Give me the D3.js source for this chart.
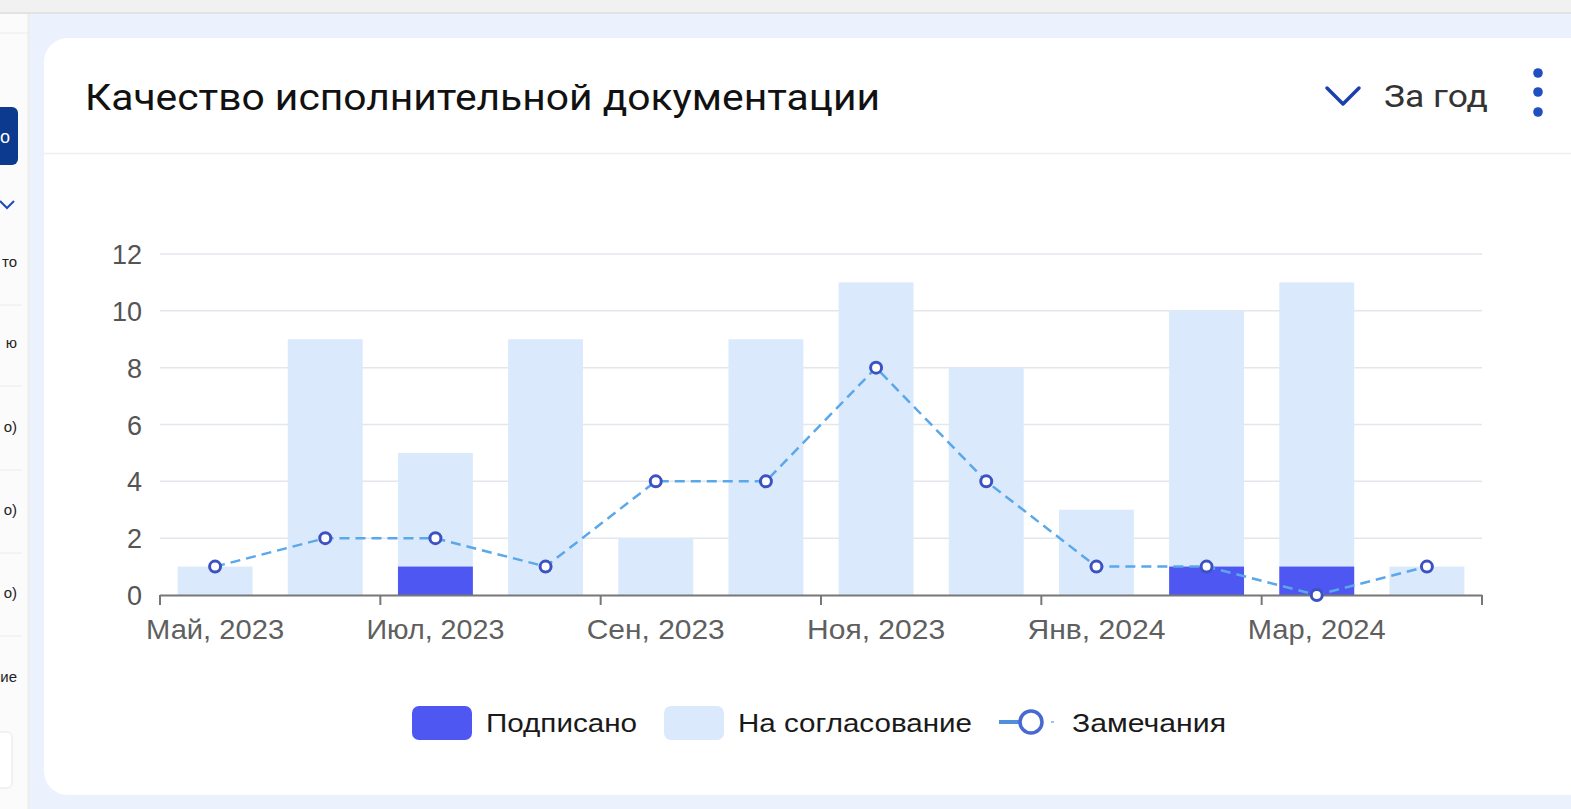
<!DOCTYPE html>
<html><head><meta charset="utf-8">
<script src="https://cdn.jsdelivr.net/npm/d3@7"></script>
<style>
html,body{margin:0;padding:0;width:1571px;height:809px;overflow:hidden;background:#ecf2fd;}
svg{display:block;}
</style></head>
<body>
<svg id="c" width="1571" height="809"></svg>
<script>
// ---- data ----
const months = ["2023-05","2023-06","2023-07","2023-08","2023-09","2023-10","2023-11","2023-12","2024-01","2024-02","2024-03","2024-04"];
const tickLabels = ["Май, 2023","Июл, 2023","Сен, 2023","Ноя, 2023","Янв, 2024","Мар, 2024"];
const signed = [0,0,1,0,0,0,0,0,0,1,1,0];           // Подписано
const pending = [1,9,5,9,2,9,11,8,3,10,11,1];       // На согласование
const remarks = [1,2,2,1,4,4,8,4,1,1,0,1];          // Замечания
const yTicks = [0,2,4,6,8,10,12];
const seriesNames = ["Подписано","На согласование","Замечания"];
const sidebarTexts = ["то","ю","о)","о)","о)","ие"];

const svg = d3.select("#c");
const W = 1571, H = 809;

// ---- page chrome ----
svg.append("rect").attr("x",0).attr("y",0).attr("width",W).attr("height",H).attr("fill","#ecf2fd");
svg.append("rect").attr("x",0).attr("y",0).attr("width",W).attr("height",13).attr("fill","#f1f1f1");
svg.append("line").attr("x1",0).attr("x2",W).attr("y1",13).attr("y2",13).attr("stroke","#dedede").attr("stroke-width",1.5);
// sidebar
svg.append("rect").attr("x",0).attr("y",14).attr("width",28).attr("height",H-14).attr("fill","#fbfbfb");
svg.append("line").attr("x1",28.5).attr("x2",28.5).attr("y1",14).attr("y2",H).attr("stroke","#ececec").attr("stroke-width",2);
svg.append("line").attr("x1",0).attr("x2",28).attr("y1",33).attr("y2",33).attr("stroke","#ececec");
svg.append("path").attr("d","M-10,107 H12 a6,6 0 0 1 6,6 V159 a6,6 0 0 1 -6,6 H-10 Z").attr("fill","#0b3a8f");
svg.append("text").attr("x",0).attr("y",143).attr("font-family","Liberation Sans, Arial").attr("font-size",18).attr("fill","#fff").text("о");
svg.append("path").attr("d","M0,201 L7,208 L14,201").attr("fill","none").attr("stroke","#1f4bb5").attr("stroke-width",2);
const sideY = [267,348,432,515,598,682];
sidebarTexts.forEach((t,i)=>{
  svg.append("text").attr("x",17).attr("y",sideY[i]).attr("text-anchor","end").attr("font-family","Liberation Sans, Arial").attr("font-size",15).attr("fill","#222").text(t);
  if(i<5) svg.append("line").attr("x1",0).attr("x2",22).attr("y1",sideY[i]+38).attr("y2",sideY[i]+38).attr("stroke","#ececec");
});
svg.append("rect").attr("x",-10).attr("y",732).attr("width",22).attr("height",56).attr("rx",5).attr("fill","#fff").attr("stroke","#e6e6e6");

// card
svg.append("rect").attr("x",44).attr("y",38).attr("width",1560).attr("height",757).attr("rx",24).attr("fill","#ffffff");
svg.append("line").attr("x1",44).attr("x2",W).attr("y1",153.5).attr("y2",153.5).attr("stroke","#eceef2").attr("stroke-width",1.5);

// header
svg.append("text").attr("x",85).attr("y",110).attr("font-family","Roboto, Arial").attr("font-size",37).attr("fill","#111")
  .attr("textLength",795).attr("lengthAdjust","spacingAndGlyphs").text("Качество исполнительной документации");
svg.append("path").attr("d","M1327,88 L1343,104 L1359,88").attr("fill","none").attr("stroke","#1c3fae").attr("stroke-width",3.5).attr("stroke-linecap","round").attr("stroke-linejoin","round");
svg.append("text").attr("x",1384).attr("y",107).attr("font-family","Roboto, Arial").attr("font-size",32).attr("fill","#333")
  .attr("textLength",104).attr("lengthAdjust","spacingAndGlyphs").text("За год");
[73,92,112].forEach(y=>svg.append("circle").attr("cx",1538).attr("cy",y).attr("r",4.8).attr("fill","#1f4fc1"));

// ---- chart ----
const x0 = 160, x1 = 1482, yTop = 254, yBot = 595;
const x = d3.scaleBand().domain(months).range([x0,x1]).paddingInner(0.32).paddingOuter(0.16);
const y = d3.scaleLinear().domain([0,12]).range([yBot,yTop]);
const g = svg.append("g");

// gridlines
g.selectAll(".grid").data(yTicks.filter(d=>d>0)).enter().append("line")
  .attr("x1",x0).attr("x2",x1).attr("y1",d=>y(d)).attr("y2",d=>y(d))
  .attr("stroke","#e4e6ee").attr("stroke-width",1.5);

// y labels
g.selectAll(".yl").data(yTicks).enter().append("text")
  .attr("x",142).attr("y",d=>y(d)+10).attr("text-anchor","end")
  .attr("font-family","Liberation Sans, Arial").attr("font-size",27).attr("fill","#555")
  .text(d=>d);

// bars
g.selectAll(".pb").data(pending).enter().append("rect")
  .attr("x",(d,i)=>x(months[i])).attr("width",x.bandwidth())
  .attr("y",d=>y(d)).attr("height",d=>yBot-y(d)).attr("fill","#daeafc");
g.selectAll(".sb").data(signed).enter().append("rect")
  .attr("x",(d,i)=>x(months[i])).attr("width",x.bandwidth())
  .attr("y",d=>y(d)).attr("height",d=>yBot-y(d)).attr("fill","#4f57f3");

// x axis
const step = (x1-x0)/months.length;
g.append("line").attr("x1",x0).attr("x2",x1).attr("y1",yBot+0.5).attr("y2",yBot+0.5).attr("stroke","#777").attr("stroke-width",2);
const tickIdx = d3.range(0,months.length+1,2);
g.selectAll(".tk").data(tickIdx).enter().append("line")
  .attr("x1",d=>x0+d*step).attr("x2",d=>x0+d*step).attr("y1",yBot).attr("y2",yBot+10)
  .attr("stroke","#777").attr("stroke-width",2);
g.selectAll(".xl").data(tickLabels).enter().append("text")
  .attr("x",(d,i)=>x(months[i*2])+x.bandwidth()/2).attr("y",639).attr("text-anchor","middle")
  .attr("font-family","Liberation Sans, Arial").attr("font-size",28).attr("fill","#5f5f5f")
  .attr("textLength",138).attr("lengthAdjust","spacingAndGlyphs")
  .text(d=>d);

// remarks line
const cx = (d,i)=>x(months[i])+x.bandwidth()/2;
const line = d3.line().x(cx).y(d=>y(d));
g.append("path").datum(remarks).attr("d",line).attr("fill","none")
  .attr("stroke","#5aa7ea").attr("stroke-width",2.5).attr("stroke-dasharray","10,6");
g.selectAll(".pt").data(remarks).enter().append("circle")
  .attr("cx",cx).attr("cy",d=>y(d)).attr("r",5.5)
  .attr("fill","#fff").attr("stroke","#3d52c2").attr("stroke-width",3);

// legend
const lg = svg.append("g");
const lf = {"font-family":"Liberation Sans, Arial","font-size":26,"fill":"#1a1a1a"};
function ltext(xp,t,w){const e=lg.append("text").attr("x",xp).attr("y",732).text(t).attr("textLength",w).attr("lengthAdjust","spacingAndGlyphs");Object.entries(lf).forEach(([k,v])=>e.attr(k,v));}
lg.append("rect").attr("x",412).attr("y",706).attr("width",60).attr("height",34).attr("rx",7).attr("fill","#4f57f3");
ltext(486,seriesNames[0],151);
lg.append("rect").attr("x",664).attr("y",706).attr("width",60).attr("height",34).attr("rx",7).attr("fill","#daeafc");
ltext(738,seriesNames[1],234);
lg.append("line").attr("x1",999).attr("x2",1019).attr("y1",722).attr("y2",722).attr("stroke","#4f8fdc").attr("stroke-width",4);
lg.append("circle").attr("cx",1031).attr("cy",722).attr("r",11).attr("fill","#fff").attr("stroke","#4868d2").attr("stroke-width",3.5);
lg.append("line").attr("x1",1051).attr("x2",1054).attr("y1",722).attr("y2",722).attr("stroke","#9cc4ee").attr("stroke-width",2);
ltext(1072,seriesNames[2],154);
</script>
</body></html>
